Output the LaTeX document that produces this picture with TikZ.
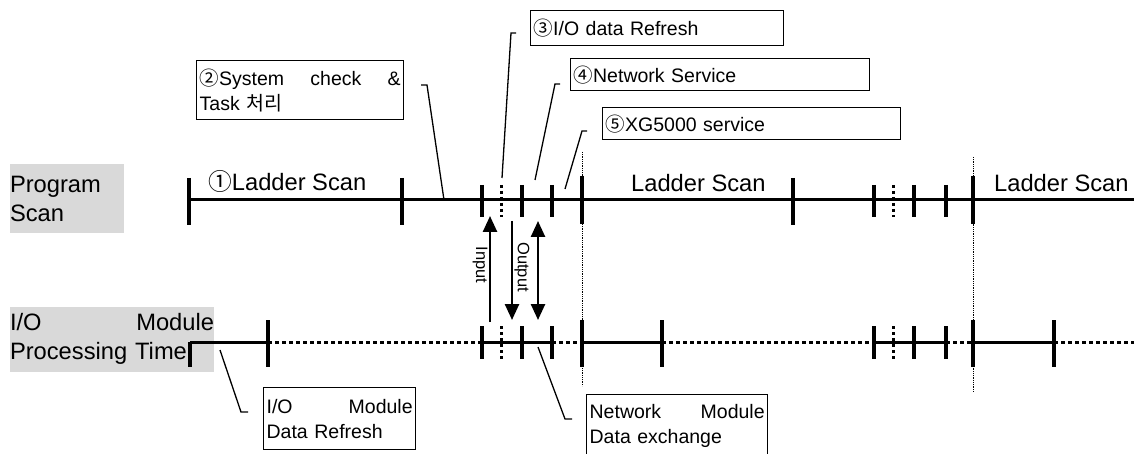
\documentclass[tikz,border=0pt]{standalone}
\usepackage{fontspec}
\setmainfont{Liberation Sans}
\newfontfamily\cjk{Noto Sans CJK KR}
\usetikzlibrary{arrows.meta}
\definecolor{labelgray}{gray}{0.85}

\begin{document}
\begin{tikzpicture}[x=1pt, y=-1pt]
  \tikzstyle{axis} = [line width=3pt]
  \tikzstyle{idle} = [line width=3pt, dash pattern=on 3.5pt off 3.5pt]
  \tikzstyle{tick} = [line width=3.5pt]
  \tikzstyle{bigtick} = [line width=4.5pt]
  \tikzstyle{dottick} = [line width=3pt, dash pattern=on 3pt off 3pt]
  \tikzstyle{guide} = [line width=0.8pt, dash pattern=on 1pt off 0.8pt]
  \tikzstyle{leader} = [line width=1.3pt]
  \tikzstyle{note} = [draw, line width=1.3pt, anchor=north west, align=left, inner xsep=3pt, inner ysep=0pt, font=\fontsize{19.5}{25}\selectfont]
  \tikzstyle{rowlabel} = [fill=labelgray, align=left, inner sep=0pt, font=\fontsize{23.7}{29.5}\selectfont]
  \tikzstyle{scanlabel} = [anchor=base west, inner sep=0pt, font=\fontsize{23.7}{28}\selectfont]
  \tikzstyle{flow} = [line width=2.5pt, >={Triangle[width=14pt,length=16pt]}]
  \tikzstyle{flowlabel} = [rotate=-90, inner sep=0pt, font=\fontsize{16.5}{20}\selectfont]

  \clip (0,0) rectangle (1134,454);

  \node[rowlabel, text width=114pt, minimum height=69pt] (prog) at (67,199) {Program\\Scan};
  \node[rowlabel, text width=204pt, minimum height=65pt] (iomod) at (112,339) {I/O\hfill Module\\Processing Time};

  \node[note, text width=201pt, minimum height=59pt] (sysnote) at (196,60) {{\cjk ②}System\hfill check\hfill \&\\Task {\cjk 처리}};
  \node[note, text width=247pt, minimum height=35pt] (ionote) at (530,10) {{\cjk ③}I/O data Refresh};
  \node[note, text width=293pt, minimum height=32pt] (netnote) at (570,58) {{\cjk ④}Network Service};
  \node[note, text width=292pt, minimum height=32pt] (toolnote) at (602,107) {{\cjk ⑤}XG5000 service};
  \node[note, text width=146pt, minimum height=62pt] (refreshnote) at (263,387) {I/O\hfill Module\\Data Refresh};
  \node[note, text width=175pt, minimum height=62pt] (exchnote) at (586,394) {Network\hfill Module\\Data exchange};

  \node[scanlabel] (scan1) at (208,191) {{\cjk ①}Ladder Scan};
  \node[scanlabel] (scan2) at (631,192) {Ladder Scan};
  \node[scanlabel] (scan3) at (994,192) {Ladder Scan};

  \draw[guide] (582,152) -- (582,386);
  \draw[guide] (973,157) -- (973,392);

  \draw[axis] (189,200) -- (1140,200);
  \foreach \x in {189,402,793}
    \draw[tick] (\x,178) -- (\x,225);
  \foreach \x in {482,522,552,874,914,946}
    \draw[tick] (\x,185) -- (\x,217);
  \foreach \x in {501,893}
    \draw[dottick] (\x,185) -- (\x,217);
  \foreach \x in {582,973}
    \draw[bigtick] (\x,176) -- (\x,224);

  \foreach \a/\b in {190/268,482/552,582/662,874/946,973/1054}
    \draw[axis] (\a,342) -- (\b,342);
  \foreach \a/\b in {268/482,552/582,662/874,946/973,1054/1140}
    \draw[idle] (\a,342) -- (\b,342);
  \draw[tick] (190,342) -- (190,367);
  \foreach \x in {268,662,1054}
    \draw[tick] (\x,320) -- (\x,367);
  \foreach \x in {482,522,552,874,914,946}
    \draw[tick] (\x,326) -- (\x,359);
  \foreach \x in {501,893}
    \draw[dottick] (\x,326) -- (\x,359);
  \foreach \x in {582,973}
    \draw[bigtick] (\x,320) -- (\x,367);

  \coordinate (inBot) at (490,322);
  \coordinate (inTop) at (490,216);
  \coordinate (outTop) at (512,221);
  \coordinate (outBot) at (512,320);
  \coordinate (netTop) at (538,221);
  \coordinate (netBot) at (538,320);
  \draw[flow, ->] (inBot) -- (inTop);
  \draw[flow, ->] (outTop) -- (outBot);
  \draw[flow, <->] (netTop) -- (netBot);
  \node[flowlabel] (inlabel) at (480,265) {Input};
  \node[flowlabel] (outlabel) at (522,267) {Output};

  \coordinate (sysHook) at (421,85);
  \coordinate (sysBend) at (427,85);
  \coordinate (sysTip) at (444,200);
  \draw[leader] (sysHook) -- (sysBend) -- (sysTip);
  \coordinate (ioTip) at (502,178);
  \coordinate (ioBend) at (511,33);
  \coordinate (ioHook) at (516,33);
  \draw[leader] (ioTip) -- (ioBend) -- (ioHook);
  \coordinate (netTip) at (535,180);
  \coordinate (netBend) at (555,84);
  \coordinate (netHook) at (560,84);
  \draw[leader] (netTip) -- (netBend) -- (netHook);
  \coordinate (toolTip) at (565,189);
  \coordinate (toolBend) at (582,131);
  \coordinate (toolHook) at (587,131);
  \draw[leader] (toolTip) -- (toolBend) -- (toolHook);
  \coordinate (refTip) at (220,350);
  \coordinate (refBend) at (241,412);
  \coordinate (refHook) at (248,412);
  \draw[leader] (refTip) -- (refBend) -- (refHook);
  \coordinate (exTip) at (538,347);
  \coordinate (exBend) at (565,419);
  \coordinate (exHook) at (572,419);
  \draw[leader] (exTip) -- (exBend) -- (exHook);
\end{tikzpicture}
\end{document}
